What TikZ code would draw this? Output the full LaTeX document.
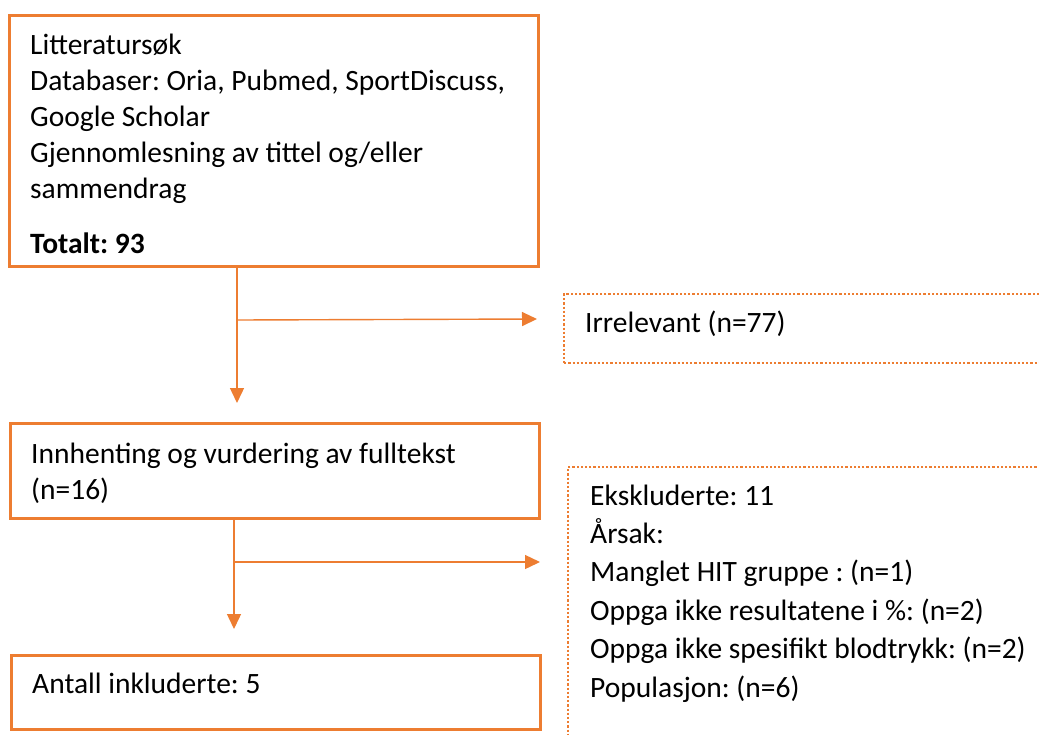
\documentclass[tikz,border=0pt]{standalone}
\usepackage{fontspec}
\setmainfont{Carlito}
\frenchspacing
\usetikzlibrary{arrows.meta}
\definecolor{accent}{HTML}{ED7D31}
\tikzset{
  solidbox/.style={draw=accent, line width=2.8pt, inner sep=0pt, anchor=north west},
  dotbox/.style={draw=accent, line width=2.2pt, dash pattern=on 2.2pt off 2pt, inner sep=0pt, anchor=north west},
  txt/.style={anchor=base west, inner sep=0pt, align=left, font=\fontsize{29.5}{36}\selectfont},
  arr/.style={draw=accent, line width=1.4pt, -{Triangle[length=15pt,width=14pt]}}
}
\begin{document}
\begin{tikzpicture}[x=1pt,y=-1pt]
\frenchspacing
\useasboundingbox (0,0) rectangle (1039,734);
\begin{scope}
\clip (0,0) rectangle (1039,734);
% boxes
\node[solidbox, minimum width=529pt, minimum height=251pt] (b1) at (8,14) {};
\node[solidbox, minimum width=529pt, minimum height=95pt] (b2) at (9,422) {};
\node[solidbox, minimum width=529pt, minimum height=74pt] (b3) at (10,654) {};
\node[dotbox, minimum width=520pt, minimum height=69pt] (irr) at (563,293) {};
\node[dotbox, minimum width=500pt, minimum height=300pt] (eks) at (567,466) {};
% texts (anchored at the baseline of their last line)
\node[txt] (t1) at (30,198) {Litteratursøk\\Databaser: Oria, Pubmed, SportDiscuss,\\Google Scholar\\Gjennomlesning av tittel og/eller\\sammendrag};
\node[txt] (t1b) at (30,253) {\textbf{Totalt: 93}};
\node[txt] (t2) at (31,499) {Innhenting og vurdering av fulltekst\\(n=16)};
\node[txt] (t3) at (32,693) {Antall inkluderte: 5};
\node[txt] (tirr) at (585,332) {Irrelevant (n=77)};
\node[txt, font=\fontsize{29.5}{38.4}\selectfont] (teks) at (590,697) {Ekskluderte: 11\\Årsak:\\Manglet HIT gruppe : (n=1)\\Oppga ikke resultatene i \%: (n=2)\\Oppga ikke spesifikt blodtrykk: (n=2)\\Populasjon: (n=6)};
% connector coordinates
\coordinate (s1) at (237,265);
\coordinate (j1) at (237,320);
\coordinate (e1) at (237,403);
\coordinate (h1) at (537,319);
\coordinate (s2) at (234,517);
\coordinate (j2) at (234,562);
\coordinate (e2) at (234,629);
\coordinate (h2) at (540,562);
\draw[arr] (s1) -- (e1);
\draw[arr] (j1) -- (h1);
\draw[arr] (s2) -- (e2);
\draw[arr] (j2) -- (h2);
\end{scope}
\end{tikzpicture}
\end{document}
